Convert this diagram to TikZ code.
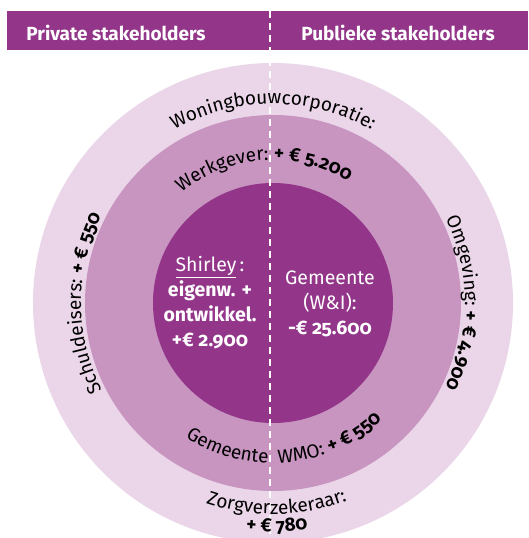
\documentclass[tikz,border=0pt]{standalone}
\usepackage{fontspec}
\setmainfont{Fira Sans}[Numbers=OldStyle]
\usepackage{xcolor}
\usepackage{tikz}
\usetikzlibrary{decorations.text}
\definecolor{paars}{HTML}{93368A}
\definecolor{midpaars}{HTML}{C894C0}
\definecolor{lichtpaars}{HTML}{EAD6E8}
\newcommand{\arcfont}{\fontsize{19}{22}\selectfont}

\begin{document}
\begin{tikzpicture}[x=1pt,y=1pt,
   arctext/.style={decorate,decoration={text along path,text align=center,text={#1}}},
   kop/.style={anchor=base,text=white,font=\fontsize{19}{22}\selectfont\bfseries},
   midden/.style={text=white,align=center,font=\fontsize{19.5}{25}\selectfont}]
   \useasboundingbox (-273,-235) rectangle (255,303);
   \clip (-273,-235) rectangle (255,303);
   % ringen
   \fill[lichtpaars] (0,0) circle (240);
   \fill[midpaars] (0,0) circle (188);
   \fill[paars] (0,0) circle (120);
   % balk bovenaan
   \fill[paars] (-266,253) rectangle (255,292);
   \node[kop] (privaat) at (-157,262) {Private stakeholders};
   \node[kop] (publiek) at (125,262) {Publieke stakeholders};
   % scheidingslijn
   \coordinate (boven) at (-3,292);
   \coordinate (onder) at (-3,-235);
   \draw[white,line width=2pt,dash pattern=on 7pt off 5pt] (boven) -- (onder);
   % binnenste cirkel
   \node[midden] (shirley) at (-63,0) {\underline{Shirley}\,:\\ \bfseries eigenw. +\\ \bfseries ontwikkel.\\ \bfseries +€ 2.900};
   \node[midden] (gemeente) at (57,-1) {Gemeente\\ (W\&I):\\ \bfseries -€ 25.600};
   % middelste ring
   \path[arctext={|\arcfont|Werkgever: |\arcfont\bfseries|+ € 5.200}] (165:143) arc[start angle=165,end angle=23,radius=143];
   \path[arctext={|\arcfont|Gemeente \ WMO: |\arcfont\bfseries|+ € 550}] (200:160) arc[start angle=200,end angle=350,radius=160];
   % buitenste ring
   \path[arctext={|\arcfont|Woningbouwcorporatie:}] (150:199) arc[start angle=150,end angle=30,radius=199];
   \path[arctext={|\arcfont|Schuldeisers: |\arcfont\bfseries|+ € 550}] (240:192) arc[start angle=240,end angle=120,radius=192];
   \path[arctext={|\arcfont|Omgeving: |\arcfont\bfseries|+ € 4.900}] (60:192) arc[start angle=60,end angle=-60,radius=192];
   \path[arctext={|\arcfont|Zorgverzekeraar:}] (200:211) arc[start angle=200,end angle=342,radius=211];
   \path[arctext={|\arcfont\bfseries|+ € 780}] (240:229) arc[start angle=240,end angle=302,radius=229];
   %\draw[red] (0,0) circle (240);
\end{tikzpicture}
\end{document}
